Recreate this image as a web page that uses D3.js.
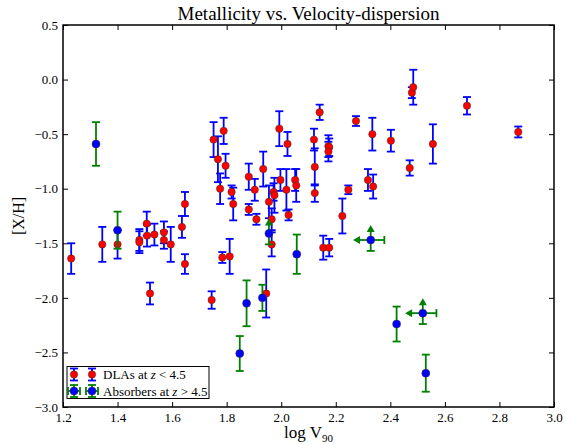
<!DOCTYPE html>
<html lang="en">
<head>
<meta charset="UTF-8">
<title>Metallicity vs. Velocity-dispersion</title>
<script src="https://d3js.org/d3.v7.min.js"></script>
<style>
  body { margin: 0; background: #fff; }
  text { font-family: "Liberation Serif", "DejaVu Serif", serif; fill: #000; }
</style>
</head>
<body>
<svg id="chart" width="566" height="445"></svg>
<script>
// DLAs at z < 4.5 : log V90, [X/H], error on [X/H]
const dlaLogV = [1.230, 1.344, 1.400, 1.480, 1.480, 1.507, 1.508, 1.519, 1.535, 1.570,
                 1.570, 1.595, 1.636, 1.647, 1.647, 1.745, 1.752, 1.768, 1.776, 1.784,
                 1.789, 1.796, 1.811, 1.818, 1.824, 1.881, 1.881, 1.903, 1.909, 1.934,
                 1.945, 1.955, 1.965, 1.965, 1.972, 1.975, 1.993, 1.997, 2.019, 2.023,
                 2.027, 2.051, 2.055, 2.120, 2.123, 2.123, 2.141, 2.154, 2.173, 2.176,
                 2.173, 2.176, 2.224, 2.246, 2.274, 2.318, 2.334, 2.337, 2.402, 2.471,
                 2.479, 2.484, 2.556, 2.681, 2.869];
const dlaXH   = [-1.64, -1.51, -1.51, -1.47, -1.49, -1.32, -1.43, -1.96, -1.42, -1.40,
                 -1.47, -1.51, -1.35, -1.14, -1.69, -2.02, -0.55, -0.73, -1.00, -1.63,
                 -0.47, -0.79, -1.62, -1.03, -1.14, -0.89, -1.19, -1.01, -1.28, -0.82,
                 -1.96, -1.12, -1.28, -1.51, -1.03, -1.06, -0.45, -0.92, -1.01, -0.59,
                 -1.24, -0.92, -0.97, -0.55, -0.80, -1.04, -0.30, -1.54, -0.61, -0.62,
                 -0.66, -1.54, -1.25, -1.01, -0.38, -0.92, -0.50, -0.98, -0.56, -0.81,
                 -0.12, -0.07, -0.59, -0.24, -0.48];
const dlaErr  = [0.14, 0.16, 0.13, 0.10, 0.10, 0.11, 0.10, 0.10, 0.10, 0.10,
                 0.08, 0.16, 0.10, 0.11, 0.09, 0.08, 0.16, 0.21, 0.14, 0.05,
                 0.12, 0.11, 0.16, 0.06, 0.15, 0.12, 0.05, 0.10, 0.05, 0.16,
                 0.22, 0.15, 0.10, 0.11, 0.08, 0.16, 0.16, 0.10, 0.19, 0.11,
                 0.05, 0.10, 0.15, 0.10, 0.17, 0.08, 0.07, 0.11, 0.10, 0.08,
                 0.09, 0.08, 0.16, 0.04, 0.045, 0.10, 0.15, 0.11, 0.10, 0.07,
                 0.05, 0.16, 0.18, 0.08, 0.05];

// Absorbers at z > 4.5
const absLogV  = [1.321, 1.400, 1.848, 1.873, 1.931, 1.955, 2.057, 2.328, 2.423, 2.519, 2.530];
const absXH    = [-0.59, -1.38, -2.51, -2.05, -2.00, -1.41, -1.60, -1.47, -2.24, -2.14, -2.69];
const absErr   = [0.20, 0.17, 0.16, 0.21, 0.12, 0.10, 0.18, 0.10, 0.16, 0.10, 0.17];
const absXErr  = [0, 0, 0, 0, 0, 0, 0, 0.05, 0, 0.05, 0];
const absLoLim = [false, false, false, false, false, true, false, true, false, true, false];
const absVUpLim = [false, false, false, false, false, false, false, true, false, true, false];

const xTicks = [1.2, 1.4, 1.6, 1.8, 2.0, 2.2, 2.4, 2.6, 2.8, 3.0];
const yTicks = [0.5, 0.0, -0.5, -1.0, -1.5, -2.0, -2.5, -3.0];

const svg = d3.select("#chart");
const margin = { left: 63, right: 12, top: 25, bottom: 38 };
const width = 566, height = 445;

const x = d3.scaleLinear().domain([1.2, 3.0]).range([margin.left, width - margin.right]);
const y = d3.scaleLinear().domain([-3.0, 0.5]).range([height - margin.bottom, margin.top]);
const fmt = d3.format(".1f");

// axes with inward ticks on all sides
const axes = svg.append("g");
axes.append("g")
  .attr("transform", `translate(0,${y(-3.0)})`)
  .call(d3.axisBottom(x).tickValues(xTicks).tickFormat(fmt).tickSizeInner(-5).tickSizeOuter(0).tickPadding(6));
axes.append("g")
  .attr("transform", `translate(0,${y(0.5)})`)
  .call(d3.axisTop(x).tickValues(xTicks).tickFormat("").tickSizeInner(-5).tickSizeOuter(0));
axes.append("g")
  .attr("transform", `translate(${x(1.2)},0)`)
  .call(d3.axisLeft(y).tickValues(yTicks).tickFormat(fmt).tickSizeInner(-5).tickSizeOuter(0).tickPadding(5));
axes.append("g")
  .attr("transform", `translate(${x(3.0)},0)`)
  .call(d3.axisRight(y).tickValues(yTicks).tickFormat("").tickSizeInner(-5).tickSizeOuter(0));
axes.selectAll("g").attr("font-family", '"Liberation Serif", serif').attr("font-size", 13);
axes.selectAll(".domain").remove();
axes.selectAll(".tick line").attr("stroke", "#000").attr("stroke-width", 1);
axes.selectAll(".tick text")
  .style("font-family", '"Liberation Serif", serif')
  .style("font-size", "13px")
  .attr("fill", "#000");

// error bars helper
function errBars(g, pts, color) {
  const bars = g.selectAll("g.eb").data(pts).join("g").attr("class", "eb")
    .attr("stroke", color).attr("stroke-width", 1.8).attr("fill", color);
  bars.append("line")
    .attr("x1", d => x(d.v)).attr("x2", d => x(d.v))
    .attr("y1", d => y(d.m - d.e)).attr("y2", d => y(d.m + d.e));
  // bottom cap
  bars.append("line")
    .attr("x1", d => x(d.v) - 4).attr("x2", d => x(d.v) + 4)
    .attr("y1", d => y(d.m - d.e)).attr("y2", d => y(d.m - d.e));
  // top cap or up arrow
  bars.filter(d => !d.lo).append("line")
    .attr("x1", d => x(d.v) - 4).attr("x2", d => x(d.v) + 4)
    .attr("y1", d => y(d.m + d.e)).attr("y2", d => y(d.m + d.e));
  bars.filter(d => d.lo).append("path")
    .attr("stroke", "none")
    .attr("d", d => {
      const cx = x(d.v), py = y(d.m + d.e);
      return `M${cx - 4},${py + 3}L${cx},${py - 4}L${cx + 4},${py + 3}Z`;
    });
  // horizontal errors
  const hx = bars.filter(d => d.xe > 0);
  hx.append("line")
    .attr("x1", d => x(d.v - d.xe)).attr("x2", d => x(d.v + d.xe))
    .attr("y1", d => y(d.m)).attr("y2", d => y(d.m));
  hx.append("line")
    .attr("x1", d => x(d.v + d.xe)).attr("x2", d => x(d.v + d.xe))
    .attr("y1", d => y(d.m) - 4).attr("y2", d => y(d.m) + 4);
  hx.filter(d => d.up).append("path")
    .attr("stroke", "none")
    .attr("d", d => {
      const px = x(d.v - d.xe), cy = y(d.m);
      return `M${px - 4},${cy}L${px + 3},${cy - 4}L${px + 3},${cy + 4}Z`;
    });
}

const dla = dlaLogV.map((v, i) => ({ v, m: dlaXH[i], e: dlaErr[i], xe: 0, lo: false, up: false }));
const abs = absLogV.map((v, i) => ({ v, m: absXH[i], e: absErr[i], xe: absXErr[i], lo: absLoLim[i], up: absVUpLim[i] }));

const plot = svg.append("g");
errBars(plot.append("g"), dla, "#0000ff");
plot.append("g").selectAll("circle").data(dla).join("circle")
  .attr("cx", d => x(d.v)).attr("cy", d => y(d.m)).attr("r", 3.7)
  .attr("fill", "#ff0000").attr("stroke", "#333").attr("stroke-width", 0.5);
errBars(plot.append("g"), abs, "#008000");
plot.append("g").selectAll("circle").data(abs).join("circle")
  .attr("cx", d => x(d.v)).attr("cy", d => y(d.m)).attr("r", 4)
  .attr("fill", "#0000ff").attr("stroke", "#333").attr("stroke-width", 0.5);

// frame
svg.append("rect")
  .attr("x", x(1.2)).attr("y", y(0.5))
  .attr("width", x(3.0) - x(1.2)).attr("height", y(-3.0) - y(0.5))
  .attr("fill", "none").attr("stroke", "#000").attr("stroke-width", 1.5);

// title and axis labels
svg.append("text")
  .attr("x", (x(1.2) + x(3.0)) / 2).attr("y", 20)
  .attr("text-anchor", "middle").style("font-size", "19px")
  .text("Metallicity vs. Velocity-dispersion");

const xl = svg.append("text")
  .attr("x", (x(1.2) + x(3.0)) / 2).attr("y", 438)
  .attr("text-anchor", "middle").style("font-size", "17px");
xl.append("tspan").text("log V");
xl.append("tspan").attr("dy", 4).style("font-size", "11px").text("90");

svg.append("text")
  .attr("transform", `translate(24,${(y(0.5) + y(-3.0)) / 2}) rotate(-90)`)
  .attr("text-anchor", "middle").style("font-size", "16px")
  .text("[X/H]");

// legend
const lg = svg.append("g");
lg.append("rect")
  .attr("x", 67).attr("y", 366.5).attr("width", 142).attr("height", 32)
  .attr("fill", "#fff").attr("stroke", "#000").attr("stroke-width", 1);

const legendRows = [
  { cy: 374.5, mark: "#ff0000", bar: "#0000ff", horiz: false, label: ["DLAs at ", "z", " < 4.5"] },
  { cy: 391, mark: "#0000ff", bar: "#008000", horiz: true, label: ["Absorbers at ", "z", " > 4.5"] }
];
legendRows.forEach(r => {
  [74, 92].forEach(cx => {
    const g = lg.append("g").attr("stroke", r.bar).attr("stroke-width", 1.8);
    g.append("line").attr("x1", cx).attr("x2", cx).attr("y1", r.cy - 6).attr("y2", r.cy + 6);
    g.append("line").attr("x1", cx - 4).attr("x2", cx + 4).attr("y1", r.cy - 6).attr("y2", r.cy - 6);
    g.append("line").attr("x1", cx - 4).attr("x2", cx + 4).attr("y1", r.cy + 6).attr("y2", r.cy + 6);
    if (r.horiz) {
      g.append("line").attr("x1", cx - 6).attr("x2", cx + 6).attr("y1", r.cy).attr("y2", r.cy);
      g.append("line").attr("x1", cx - 6).attr("x2", cx - 6).attr("y1", r.cy - 4).attr("y2", r.cy + 4);
      g.append("line").attr("x1", cx + 6).attr("x2", cx + 6).attr("y1", r.cy - 4).attr("y2", r.cy + 4);
    }
    lg.append("circle").attr("cx", cx).attr("cy", r.cy).attr("r", r.horiz ? 4 : 3.7)
      .attr("fill", r.mark).attr("stroke", "#333").attr("stroke-width", 0.5);
  });
  const t = lg.append("text").attr("x", 103).attr("y", r.cy + 4.5).style("font-size", "13px");
  t.append("tspan").text(r.label[0]);
  t.append("tspan").style("font-style", "italic").text(r.label[1]);
  t.append("tspan").text(r.label[2]);
});
</script>
</body>
</html>
